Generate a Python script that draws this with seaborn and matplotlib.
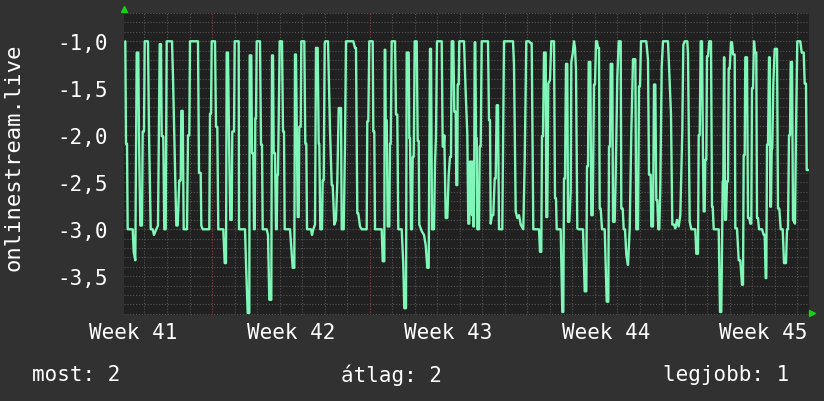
import numpy as np
import pandas as pd
import seaborn as sns
import matplotlib
matplotlib.use('Agg')
import matplotlib.pyplot as plt
from matplotlib.ticker import FuncFormatter, MultipleLocator

# one sample = one pixel column of the original graph (64 minutes)
MIN_PER_SAMPLE = 64

# (sample index, value) per stretch of the month
seg_a = [(1.3, -1.0), (2, -2.09), (3, -2.09), (3.7, -3.0), (8.7, -3.0), (9.7, -3.24), (11.3, -3.33),
         (12.7, -1.12), (14.3, -1.12), (15, -2.03), (16.3, -2.96), (18, -2.96), (18.7, -1.96), (20, -1.96),
         (20.7, -1.0), (24, -1.0), (25, -1.96), (26.7, -3.0), (28.7, -3.0), (30, -3.06), (32.3, -3.0),
         (34, -2.96), (35.7, -1.03), (37, -1.03), (37.7, -2.01), (39.3, -2.01), (40.3, -3.0), (41.7, -3.0),
         (42.7, -1.0), (48, -1.0), (49, -1.38), (50.7, -2.19), (52.3, -2.96), (53.7, -2.96), (55.3, -2.48),
         (56.7, -2.48), (57.3, -1.74), (58.7, -1.74), (59.7, -3.0), (63, -3.0), (64, -2.0), (65.3, -2.0),
         (66, -1.0), (74, -1.0), (75, -2.4), (76.7, -2.4), (77.3, -2.96), (78.7, -3.0), (85.3, -3.0),
         (86, -1.77), (87, -1.77), (87.7, -1.0), (91, -1.0), (92, -1.91), (93.3, -1.91), (94.3, -3.0),
         (99.3, -3.0), (100.7, -3.36), (102, -3.36), (102.7, -1.12), (104, -1.12), (105, -2.01),
         (106.3, -2.9), (107.7, -2.9), (108.3, -1.96), (110, -1.96), (110.7, -1.0), (114.7, -1.0)]

seg_b = [(115, -3.0), (121, -3.0), (122, -3.36), (123.7, -3.89), (125.3, -3.89), (125.7, -1.15),
         (127.3, -1.15), (128, -2.19), (129.3, -2.19), (130, -3.0), (130.7, -3.0), (131.3, -1.82),
         (132, -1.82), (132.7, -1.0), (136, -1.0), (137, -2.1), (138, -2.1), (138.7, -3.0), (142.7, -3.0),
         (144, -3.06), (145.3, -3.75), (147.3, -3.75), (148, -1.15), (149, -1.15), (149.7, -2.19),
         (151, -2.19), (152, -3.0), (152.7, -3.0), (153.3, -2.42), (154, -2.42), (155.7, -1.0), (158, -1.0),
         (159, -1.96), (160, -1.96), (160.7, -3.0), (166, -3.0), (167, -3.15), (168.7, -3.41),
         (170.3, -3.41), (171, -1.14), (172, -1.14), (173.7, -2.87), (174.7, -2.87), (175.3, -1.91),
         (176.7, -1.91), (177.3, -1.0), (180.3, -1.0), (181.3, -2.09), (182.3, -2.09), (183, -3.0),
         (187, -3.0), (188, -3.06), (189.3, -3.0), (191, -2.95), (192, -1.07), (193.7, -1.07),
         (194.7, -2.09), (195.3, -2.09), (196.3, -3.0), (198, -3.0), (198.7, -2.48), (199.7, -2.48),
         (200.7, -1.02), (201.3, -1.0), (204, -1.0), (206, -1.94), (207.7, -2.53), (208.7, -2.53),
         (210.3, -2.95), (212, -2.9), (213.3, -2.49), (214.7, -1.71), (217, -1.71), (217.7, -3.0),
         (219.7, -3.0), (221, -2.09), (222, -1.0), (229.3, -1.0)]

seg_c = [(231, -1.07), (232, -1.07), (233.3, -2.83), (234.3, -2.83), (236, -2.97), (237.7, -3.0),
         (242.7, -3.0), (243.3, -1.85), (244.3, -1.85), (245.3, -1.0), (248.7, -1.0), (249.3, -1.96),
         (250.3, -1.96), (251, -3.0), (257.7, -3.0), (258.7, -3.34), (260.3, -3.34), (260.7, -1.09),
         (261.3, -1.09), (261.7, -1.84), (262.7, -1.84), (263.7, -2.97), (265.3, -2.97), (266, -2.09),
         (266.7, -2.09), (267.7, -1.0), (271, -1.0), (272, -1.78), (273.3, -1.78), (274.3, -3.0),
         (277.7, -3.0), (279.3, -3.38), (280.3, -3.84), (282, -3.84), (282.7, -1.12), (284.7, -1.12),
         (285.3, -2.03), (286, -2.03), (287, -3.0), (288, -3.0), (288.7, -2.23), (289.7, -2.23),
         (290.7, -1.0), (292.7, -1.0), (293.7, -2.06), (294.7, -2.06), (295.3, -2.95), (297.7, -3.02),
         (300, -3.06), (301.7, -3.17), (303.3, -3.41), (304.7, -3.41), (305.3, -2.16), (306, -1.08),
         (307, -1.08), (308, -3.0), (310, -3.0), (311, -2.3), (312, -2.0), (313, -1.0), (317.7, -1.0),
         (318.7, -2.12), (319.7, -2.12), (320.3, -2.0), (321.7, -2.88), (323.3, -2.88), (324.7, -2.42),
         (326, -2.23), (327, -2.23), (327.7, -1.0), (329.3, -1.0), (330.3, -1.75), (331.7, -1.75),
         (332.3, -2.53), (333.3, -2.53), (333.7, -1.46), (334.7, -1.46), (335.3, -1.0), (340, -1.0),
         (341.7, -1.55), (343.3, -1.98)]

seg_d = [(344.3, -2.94), (345.3, -2.94), (346, -2.28), (347.3, -2.28), (348, -2.85), (348.7, -2.28),
         (349.3, -2.97), (350, -2.97), (350.7, -1.01), (351.3, -1.01), (352, -2.03), (352.7, -2.03),
         (353.3, -3.0), (355, -3.0), (355.7, -2.12), (356.7, -2.12), (357.7, -1.0), (364, -1.0),
         (365, -1.84), (366, -1.84), (366.7, -2.94), (368, -2.85), (369.3, -2.85), (370.7, -2.46),
         (371.7, -2.46), (372.7, -1.68), (374, -1.68), (375, -3.0), (378.3, -3.0), (380, -1.0), (389, -1.0),
         (390, -1.25), (391.7, -2.81), (393.3, -2.88), (395, -2.85), (396.7, -2.95), (399.3, -3.0),
         (400.7, -2.28), (402.3, -1.0), (405, -1.0), (406.7, -1.02), (407.7, -1.02), (409.3, -3.0),
         (415, -3.0), (416, -3.24), (417.3, -3.24), (418, -2.01), (419, -2.01), (420, -1.12),
         (421.7, -1.12), (422.3, -2.87), (423.3, -2.87), (424.3, -1.45), (426, -1.41), (427.3, -1.0),
         (430, -1.0), (431, -2.67), (432, -2.67), (432.7, -3.0), (436.7, -3.0), (438.3, -3.88),
         (439.3, -3.88), (440, -2.46), (441, -2.46), (442, -1.24), (443.3, -1.24), (444, -2.92),
         (445.3, -2.92), (446.7, -2.6), (447.3, -1.22), (448.7, -1.13), (450, -1.0), (451, -1.07),
         (452, -1.3), (453.3, -2.99), (454.3, -3.0)]

seg_e = [(459, -3.0), (460.7, -3.66), (462.3, -3.66), (463, -2.33), (464, -2.33), (464.7, -1.22),
         (466.3, -1.22), (467.3, -2.85), (468.7, -2.85), (470, -1.46), (471, -1.46), (472, -1.0),
         (473, -1.0), (474, -1.07), (475, -1.07), (475.7, -2.78), (476.7, -2.78), (478, -3.0),
         (480.7, -3.0), (482.7, -3.77), (484.3, -3.77), (485, -2.12), (486, -2.12), (486.7, -1.24),
         (488.3, -1.24), (489, -2.92), (490.7, -2.92), (491.7, -2.42), (493.3, -1.39), (494.7, -1.0),
         (496.7, -1.0), (497.3, -2.78), (498.7, -2.78), (499.7, -3.0), (501, -3.0), (502.3, -3.27),
         (504, -3.38), (505.7, -2.99), (507.3, -1.98), (509, -1.19), (511.3, -1.19), (512.3, -3.0),
         (514, -3.0), (515, -1.48), (516, -1.48), (517, -1.0), (522.3, -1.0), (524, -1.2), (525, -2.42),
         (526.7, -2.42), (527.3, -2.97), (529, -2.97), (530, -1.46), (531.3, -1.46), (532.3, -2.69),
         (533.3, -2.69), (534.3, -3.0), (535.3, -3.0), (536.3, -2.56), (537.7, -1.27), (539, -1.0),
         (544, -1.0), (545, -1.27), (547, -1.78), (548.3, -2.95), (550, -2.95), (551.3, -2.99),
         (553, -2.9), (554.7, -2.97), (556.3, -2.85), (558.3, -1.96), (559.3, -1.04), (560.7, -1.0),
         (563.3, -1.0), (564, -1.13), (565.7, -2.92), (567.3, -3.0)]

seg_f = [(571.3, -3.0), (572.3, -3.26), (574, -3.26), (574.7, -2.0), (575.7, -2.0), (576.7, -1.0),
         (578, -1.0), (579, -2.26), (579.7, -2.81), (580.7, -2.81), (581.3, -2.26), (582.3, -2.26),
         (583, -1.16), (584, -1.16), (585.3, -1.0), (587, -1.0), (588, -2.76), (588.7, -2.76),
         (589.7, -3.0), (594.7, -3.0), (596, -3.88), (597.3, -3.88), (598.7, -2.49), (599.3, -2.49),
         (600, -1.17), (600.3, -1.17), (601, -2.9), (602, -2.9), (603, -2.49), (604, -2.49), (604.7, -1.29),
         (605.7, -1.29), (607, -1.01), (608, -1.01), (609, -1.14), (610.7, -1.14), (611.3, -2.99),
         (613, -2.99), (614.7, -3.33), (616.3, -3.33), (618, -3.59), (619, -3.59), (619.7, -2.21),
         (620.7, -2.21), (621.3, -1.17), (623, -1.17), (624, -2.88), (625.3, -2.88), (626.3, -2.94),
         (627.3, -2.94), (628, -1.5), (629, -1.5), (630, -1.0), (631, -1.12), (632.3, -1.12), (633, -2.88),
         (634, -2.88), (635, -3.0), (638, -3.0), (639.7, -3.06), (640.7, -3.06), (641.7, -3.52),
         (642.3, -3.52), (643, -2.1), (644, -2.1), (645, -1.17), (645.7, -1.17), (646.3, -2.76),
         (647, -2.76), (647.7, -2.14), (648.3, -2.14), (649.3, -1.46), (650.7, -1.08), (653, -1.08),
         (654, -2.78), (655.3, -2.78), (656.7, -3.0), (658.7, -3.0), (660, -3.36), (662, -3.36),
         (663, -3.0), (664, -3.0), (665, -2.0), (666, -2.0), (666.7, -1.22), (668, -1.22), (669, -2.9),
         (671, -2.94), (672, -1.96), (673.3, -1.0), (676.3, -1.0), (677.7, -1.12), (679.7, -1.12),
         (680.7, -1.45), (682, -1.45), (682.7, -2.37), (684, -2.37)]

week_labels = ['Week 41', 'Week 42', 'Week 43', 'Week 44', 'Week 45']
legend_items = ['most: 2', 'átlag: 2', 'legjobb: 1']
y_label = 'onlinestream.live'

# colours
BG = '#313131'
PLOT_BG = '#212121'
LINE = '#80f7b9'
MINOR = '#545454'
MAJOR = '#7a3434'
ARROW = '#18d018'

sns.set_style('dark')
plt.rcParams['font.family'] = ['DejaVu Sans Mono', 'DejaVu Sans']
plt.rcParams['axes.unicode_minus'] = False

points = seg_a + seg_b + seg_c + seg_d + seg_e + seg_f
df = pd.DataFrame(points, columns=['sample', 'value'])
df['hours'] = df['sample'] * MIN_PER_SAMPLE / 60.0

W, H = 824, 402
fig = plt.figure(figsize=(W / 100, H / 100), dpi=100, facecolor=BG)
ax = fig.add_axes([124 / W, 86 / H, 685 / W, 302 / H])
ax.set_facecolor(PLOT_BG)

x_end = 685 * MIN_PER_SAMPLE / 60.0
week0 = 88 * MIN_PER_SAMPLE / 60.0  # first week boundary

# grid: days + tenths dotted grey, weeks + integers dotted red
dotted = (0, (1, 1.6))
for d in np.arange(week0 - 72, x_end, 24):
    ax.axvline(d, color=MINOR, lw=0.8, ls=dotted, zorder=1)
for v in np.arange(-3.9, -0.69, 0.1):
    ax.axhline(v, color=MINOR, lw=0.8, ls=dotted, zorder=1)
for w in np.arange(week0, x_end, 168):
    ax.axvline(w, color=MAJOR, lw=0.8, ls=dotted, zorder=1.5)
for v in [-1.0, -2.0, -3.0]:
    ax.axhline(v, color=MAJOR, lw=0.8, ls=dotted, zorder=1.5)

sns.lineplot(data=df, x='hours', y='value', estimator=None, sort=False,
             color=LINE, lw=1.7, ax=ax, zorder=3)

ax.set_xlim(0, x_end)
ax.set_ylim(-3.912, -0.699)
ax.set_xticks(week0 - 84 + 168 * np.arange(len(week_labels)))
ax.set_xticklabels(week_labels)
ax.yaxis.set_major_locator(MultipleLocator(0.5))
ax.yaxis.set_major_formatter(FuncFormatter(lambda v, pos: '{:.1f}'.format(v).replace('.', ',')))
ax.tick_params(axis='x', length=0, pad=5, labelsize=15, colors='white')
ax.tick_params(axis='y', length=0, pad=11.5, labelsize=15, colors='white')
ax.set_xlabel('')
ax.set_ylabel('')
ax.grid(False)
for s in ax.spines.values():
    s.set_visible(False)

# axis arrows
ax.plot([0], [1.013], marker='^', ms=5, color=ARROW, transform=ax.transAxes, clip_on=False)
ax.plot([1.005], [0.005], marker='>', ms=5, color=ARROW, transform=ax.transAxes, clip_on=False)

fig.text(14 / W, 1 - 157 / H, y_label, rotation=90, ha='center', va='center', color='white', fontsize=16)

for label, x in zip(legend_items, [32, 341, 663]):
    fig.text(x / W, 1 - 375 / H, label, ha='left', va='center', color='white', fontsize=15)

fig.savefig('out.png', dpi=100, facecolor=fig.get_facecolor())
